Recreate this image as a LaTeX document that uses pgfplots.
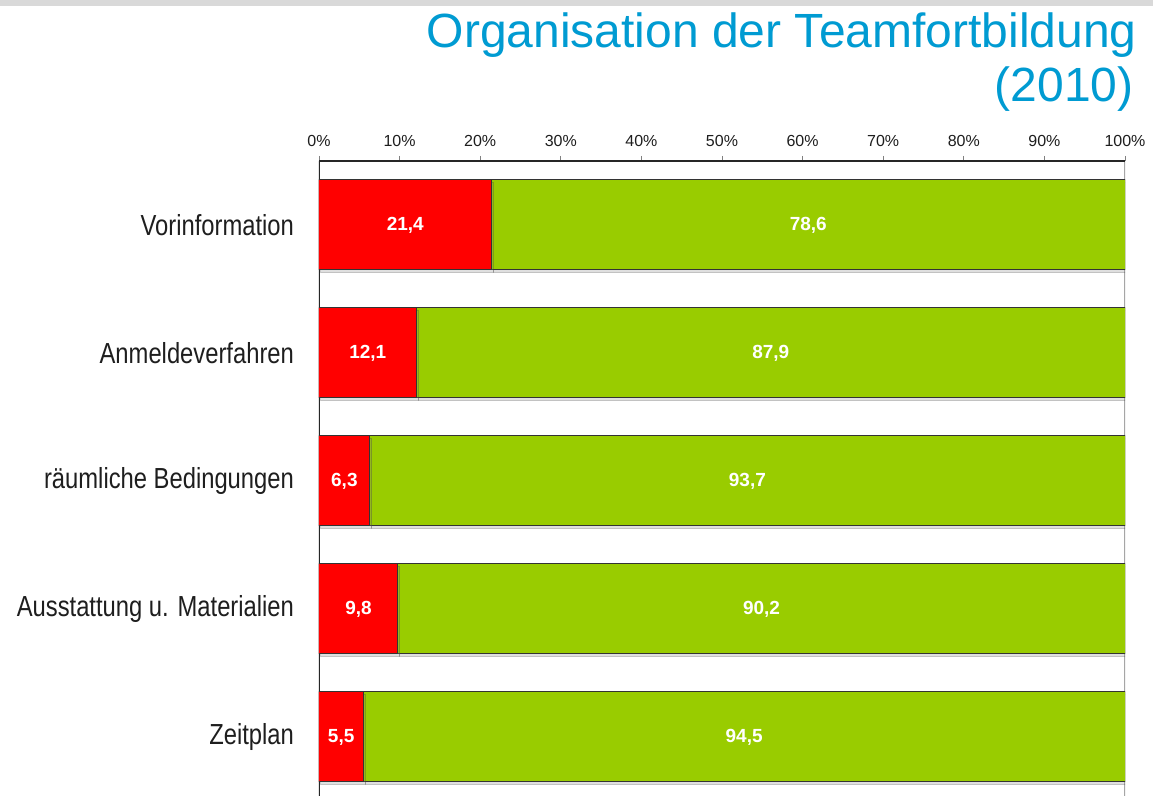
\documentclass[border=0pt]{standalone}
\usepackage{fontspec}
\setmainfont{Liberation Sans}
\newfontfamily\narrowfont[FakeStretch=0.82]{Liberation Sans}
\usepackage{pgfplots}
\pgfplotsset{compat=1.18}
\usetikzlibrary{shadows}
\definecolor{titleblue}{RGB}{0,155,210}
\definecolor{barred}{RGB}{255,0,0}
\definecolor{bargreen}{RGB}{153,204,0}
\definecolor{topgray}{RGB}{217,217,217}
\definecolor{labelgray}{RGB}{30,30,30}

\begin{document}
\begin{tikzpicture}
% picture frame: 1153 x 796 px at 0.5pt per px
\useasboundingbox (0,0) rectangle (576.5pt,398pt);
\clip (0,0) rectangle (576.5pt,398pt);
\fill[white] (0,0) rectangle (576.5pt,398pt);
\fill[topgray] (0,395pt) rectangle (576.5pt,398pt);

\node[anchor=base east, inner sep=0, text=titleblue,
      font=\fontsize{24}{26}\selectfont] at (568.5pt,374pt)
      {Organisation der Teamfortbildung};
\node[anchor=base east, inner sep=0, text=titleblue,
      font=\fontsize{24}{26}\selectfont] at (567pt,347pt) {(2010)};

\begin{axis}[
  at={(159.5pt,317.5pt)}, anchor=north west,
  scale only axis, width=403pt, height=320pt,
  xbar stacked, bar width=45pt,
  xmin=0, xmax=100, ymin=-0.5, ymax=4.5,
  y dir=reverse,
  axis line style={draw=none},
  xtick={0,10,...,100},
  xticklabels={0\%,10\%,20\%,30\%,40\%,50\%,60\%,70\%,80\%,90\%,100\%},
  xticklabel pos=right, xtick pos=right,
  tick align=outside, major tick length=2.5pt,
  xtick style={draw=gray, thin},
  xticklabel style={font=\fontsize{8}{9}\selectfont, text=labelgray, yshift=1pt},
  ytick={0,1,2,3,4},
  yticklabels={Vorinformation,Anmeldeverfahren,räumliche Bedingungen,Ausstattung u. Materialien,Zeitplan},
  ytick style={draw=none},
  yticklabel style={font=\narrowfont\fontsize{14.5}{16}\selectfont, text=labelgray, xshift=-6.5pt},
  point meta=explicit symbolic,
  nodes near coords,
  every node near coord/.append style={
    font=\fontsize{9.5}{11}\selectfont\bfseries, text=white, anchor=center},
  every axis plot/.append style={line width=0.5pt,
    drop shadow={shadow xshift=1pt, shadow yshift=-1.2pt, opacity=0.25}},
]
\addplot[fill=barred, draw=black!80] coordinates {
  (21.4,0) [21,4]
  (12.1,1) [12,1]
  (6.3,2)  [6,3]
  (9.8,3)  [9,8]
  (5.5,4)  [5,5]
};
\addplot[fill=bargreen, draw=black!80] coordinates {
  (78.6,0) [78,6]
  (87.9,1) [87,9]
  (93.7,2) [93,7]
  (90.2,3) [90,2]
  (94.5,4) [94,5]
};
\draw[black!85, line width=0.6pt] (axis cs:0,-0.5) -- (axis cs:100,-0.5);
\draw[black!85, line width=0.6pt] (axis cs:0,-0.5) -- (axis cs:0,4.5);
\draw[gray!70, line width=0.6pt] (axis cs:100,-0.5) -- (axis cs:100,4.5);
\end{axis}
\end{tikzpicture}
\end{document}
